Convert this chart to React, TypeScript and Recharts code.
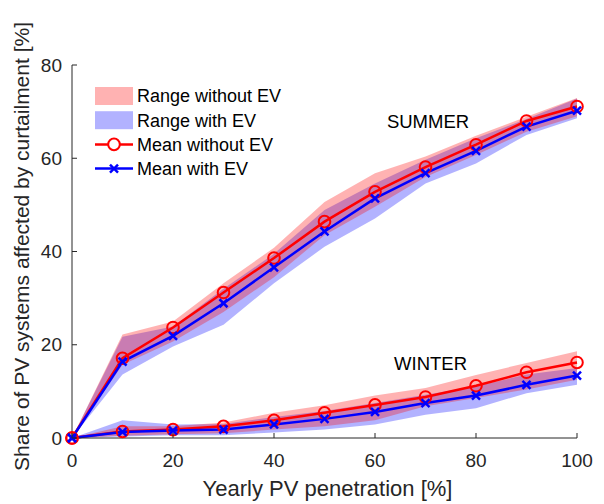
import { ComposedChart, Area, Line, XAxis, YAxis, Legend, ReferenceDot } from 'recharts';

const penetration = [0, 10, 20, 30, 40, 50, 60, 70, 80, 90, 100];

// summer
const summerMeanNoEV = [0, 17.1, 23.7, 31.2, 38.6, 46.4, 52.8, 58.1, 62.9, 68.0, 71.1];
const summerMeanEV = [0, 16.4, 21.9, 28.9, 36.6, 44.3, 51.4, 56.8, 61.6, 66.8, 70.2];
const summerLowNoEV = [0, 15.7, 20.7, 27.0, 34.5, 43.5, 49.6, 56.0, 60.7, 65.7, 69.0];
const summerHighNoEV = [0, 22.2, 25.0, 33.2, 40.8, 50.6, 56.8, 60.4, 64.8, 68.9, 72.9];
const summerLowEV = [0, 13.6, 19.6, 24.3, 33.2, 41.0, 47.1, 54.6, 58.9, 65.0, 68.6];
const summerHighEV = [0, 21.7, 23.9, 32.0, 39.5, 48.9, 54.6, 59.7, 64.3, 68.4, 72.8];

// winter
const winterMeanNoEV = [0, 1.4, 1.8, 2.5, 3.8, 5.4, 7.1, 8.8, 11.2, 14.1, 16.2];
const winterMeanEV = [0, 1.3, 1.6, 1.8, 2.9, 4.1, 5.6, 7.5, 9.1, 11.4, 13.4];
const winterLowNoEV = [0, 0.5, 0.8, 1.0, 1.8, 2.5, 3.8, 6.8, 8.6, 10.4, 12.5];
const winterHighNoEV = [0, 2.5, 2.5, 3.3, 5.4, 7.0, 9.1, 10.7, 13.5, 16.1, 18.6];
const winterLowEV = [0, 0.3, 0.6, 0.6, 1.2, 1.8, 2.9, 5.0, 6.4, 9.6, 11.4];
const winterHighEV = [0, 3.8, 2.9, 3.0, 4.5, 5.8, 7.5, 9.3, 11.1, 13.6, 15.0];

const xTicks = [0, 20, 40, 60, 80, 100];
const yTicks = [0, 20, 40, 60, 80];

const data = penetration.map((x, i) => ({
  x,
  sNo: summerMeanNoEV[i],
  sEv: summerMeanEV[i],
  wNo: winterMeanNoEV[i],
  wEv: winterMeanEV[i],
  sNoRange: [summerLowNoEV[i], summerHighNoEV[i]],
  sEvRange: [summerLowEV[i], summerHighEV[i]],
  wNoRange: [winterLowNoEV[i], winterHighNoEV[i]],
  wEvRange: [winterLowEV[i], winterHighEV[i]],
}));

const FONT = '"Liberation Sans", Arial, sans-serif';
const AXIS = '#262626';
const RED = '#ff0000';
const BLUE = '#0000ff';
const PINK = 'rgba(255,0,0,0.3)';
const LILAC = 'rgba(0,0,255,0.3)';

const circleDot = (p: any) => (
  <circle key={`c${p.index}-${p.dataKey}`} cx={p.cx} cy={p.cy} r={5.8} fill="none" stroke={RED} strokeWidth={2} />
);

const crossDot = (p: any) => (
  <g key={`x${p.index}-${p.dataKey}`} stroke={BLUE} strokeWidth={2.5}>
    <line x1={p.cx - 4} y1={p.cy - 4} x2={p.cx + 4} y2={p.cy + 4} />
    <line x1={p.cx - 4} y1={p.cy + 4} x2={p.cx + 4} y2={p.cy - 4} />
  </g>
);

// MATLAB style: ticks point into the plot
const XTick = ({ x, y, payload }: any) => (
  <g>
    <line x1={x} y1={y} x2={x} y2={y - 5} stroke={AXIS} />
    <text x={x} y={y + 29} textAnchor="middle" fontSize={19} fill={AXIS} fontFamily={FONT}>
      {payload.value}
    </text>
  </g>
);

const YTick = ({ x, y, payload }: any) => (
  <g>
    <line x1={x} y1={y} x2={x + 5} y2={y} stroke={AXIS} />
    <text x={x - 10} y={y} dy="0.35em" textAnchor="end" fontSize={19} fill={AXIS} fontFamily={FONT}>
      {payload.value}
    </text>
  </g>
);

function LegendBox() {
  const rows = [
    { label: 'Range without EV', kind: 'patch', color: PINK },
    { label: 'Range with EV', kind: 'patch', color: LILAC },
    { label: 'Mean without EV', kind: 'circle', color: RED },
    { label: 'Mean with EV', kind: 'cross', color: BLUE },
  ];
  return (
    <svg width={210} height={100} style={{ display: 'block' }}>
      {rows.map((r, i) => {
        const cy = 12 + i * 24.2;
        return (
          <g key={r.label}>
            {r.kind === 'patch' && <rect x={5} y={cy - 9} width={38} height={18} fill={r.color} />}
            {r.kind !== 'patch' && <line x1={5} y1={cy} x2={43} y2={cy} stroke={r.color} strokeWidth={2.5} />}
            {r.kind === 'circle' && <circle cx={24} cy={cy} r={5.8} fill="white" stroke={RED} strokeWidth={2} />}
            {r.kind === 'cross' && (
              <g stroke={BLUE} strokeWidth={2.5}>
                <line x1={20} y1={cy - 4} x2={28} y2={cy + 4} />
                <line x1={20} y1={cy + 4} x2={28} y2={cy - 4} />
              </g>
            )}
            <text x={47} y={cy} dy="0.35em" fontSize={18} fill="#000" fontFamily={FONT}>
              {r.label}
            </text>
          </g>
        );
      })}
    </svg>
  );
}

export default function App() {
  return (
    <div style={{ position: 'absolute', left: 0, top: 0, width: 604, height: 504, background: '#fff' }}>
      <ComposedChart width={604} height={504} data={data} margin={{ top: 65, right: 27, bottom: 0, left: 0 }}>
        <XAxis
          dataKey="x"
          type="number"
          domain={[0, 100]}
          ticks={xTicks}
          height={66}
          stroke={AXIS}
          tickLine={false}
          tickSize={0}
          tickMargin={0}
          tick={<XTick />}
          label={{
            content: (p: any) => (
              <text x={p.viewBox.x + p.viewBox.width / 2 + 3} y={p.viewBox.y + 58} textAnchor="middle" fontSize={22} fill={AXIS} fontFamily={FONT}>
                Yearly PV penetration [%]
              </text>
            ),
          }}
        />
        <YAxis
          type="number"
          domain={[0, 80]}
          ticks={yTicks}
          width={72}
          stroke={AXIS}
          tickLine={false}
          tickSize={0}
          tickMargin={0}
          tick={<YTick />}
          label={{
            content: (p: any) => {
              const cy = p.viewBox.y + p.viewBox.height / 2 - 5;
              return (
                <text
                  x={29}
                  y={cy}
                  transform={`rotate(-90, 29, ${cy})`}
                  textAnchor="middle"
                  fontSize={21}
                  fill={AXIS}
                  fontFamily={FONT}
                >
                  Share of PV systems affected by curtailment [%]
                </text>
              );
            },
          }}
        />
        <Legend
          layout="horizontal"
          verticalAlign="middle"
          align="center"
          wrapperStyle={{ left: 90, top: 84, width: 210, height: 100 }}
          content={() => <LegendBox />}
        />

        <Area dataKey="sEvRange" stroke="none" fill={BLUE} fillOpacity={0.3} isAnimationActive={false} dot={false} activeDot={false} legendType="none" />
        <Area dataKey="wEvRange" stroke="none" fill={BLUE} fillOpacity={0.3} isAnimationActive={false} dot={false} activeDot={false} legendType="none" />
        <Area dataKey="sNoRange" stroke="none" fill={RED} fillOpacity={0.3} isAnimationActive={false} dot={false} activeDot={false} legendType="none" />
        <Area dataKey="wNoRange" stroke="none" fill={RED} fillOpacity={0.3} isAnimationActive={false} dot={false} activeDot={false} legendType="none" />

        <Line dataKey="sNo" stroke={RED} strokeWidth={2.5} dot={circleDot} activeDot={false} isAnimationActive={false} />
        <Line dataKey="wNo" stroke={RED} strokeWidth={2.5} dot={circleDot} activeDot={false} isAnimationActive={false} />
        <Line dataKey="sEv" stroke={BLUE} strokeWidth={2.5} dot={crossDot} activeDot={false} isAnimationActive={false} />
        <Line dataKey="wEv" stroke={BLUE} strokeWidth={2.5} dot={crossDot} activeDot={false} isAnimationActive={false} />

        <ReferenceDot x={70.5} y={67.9} r={0} label={{ value: 'SUMMER', position: 'center', fontSize: 18.5, fill: '#000', fontFamily: FONT }} />
        <ReferenceDot x={71} y={15.9} r={0} label={{ value: 'WINTER', position: 'center', fontSize: 18.5, fill: '#000', fontFamily: FONT }} />
      </ComposedChart>
    </div>
  );
}
